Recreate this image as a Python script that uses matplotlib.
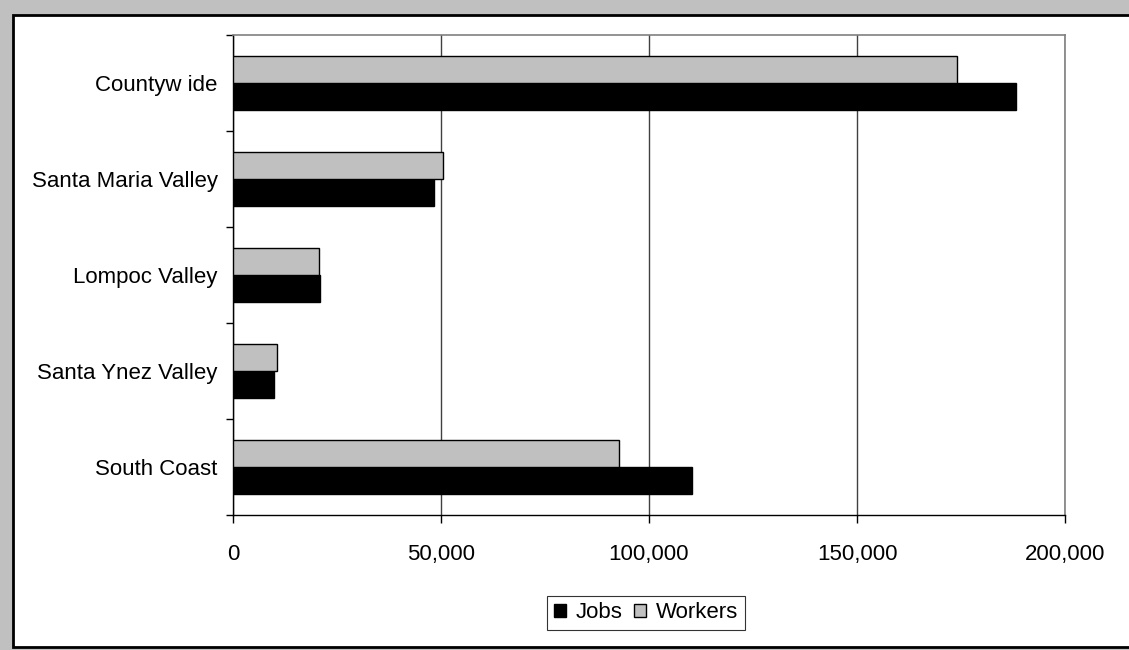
import matplotlib.pyplot as plt
import numpy as np
from matplotlib.patches import Rectangle
from matplotlib.ticker import FuncFormatter

# regions listed bottom to top
regions = ["South Coast", "Santa Ynez Valley", "Lompoc Valley",
           "Santa Maria Valley", "Countyw ide"]
jobs = [110300, 9900, 20900, 48300, 188200]
workers = [92900, 10650, 20750, 50400, 174000]
x_ticks = [0, 50000, 100000, 150000, 200000]

plt.rcParams["font.family"] = ["Liberation Sans", "DejaVu Sans"]
plt.rcParams["font.size"] = 16

W, H = 1129, 650
fig = plt.figure(figsize=(W / 100, H / 100), dpi=100, facecolor="#c0c0c0")

# white chart area with black frame, kept behind the axes
fig.patches.append(Rectangle((13 / W, 3 / H), 1.2, (647 - 15) / H,
                             transform=fig.transFigure, facecolor="white",
                             edgecolor="black", linewidth=2, zorder=-5))

ax = fig.add_axes([233 / W, (H - 515) / H, (1065 - 233) / W, 480 / H])
ax.set_zorder(2)

y = np.arange(len(regions))
h = 1 / 3.5
ax.barh(y - h / 2, jobs, height=h, color="black", edgecolor="black",
        linewidth=1, label="Jobs", zorder=3)
ax.barh(y + h / 2, workers, height=h, color="#c0c0c0", edgecolor="black",
        linewidth=1, label="Workers", zorder=3)

ax.set_xlim(0, 200000)
ax.set_ylim(-0.5, len(regions) - 0.5)

ax.set_xticks(x_ticks)
ax.xaxis.set_major_formatter(FuncFormatter(lambda v, p: f"{int(v):,}"))
ax.tick_params(axis="x", length=6, width=1, pad=15, color="black")

ax.set_yticks(np.arange(len(regions) + 1) - 0.5)
ax.set_yticklabels([])
ax.tick_params(axis="y", which="major", length=5, width=1, color="black")
ax.set_yticks(y, minor=True)
ax.set_yticklabels(regions, minor=True)
ax.tick_params(axis="y", which="minor", length=0, pad=11)

ax.grid(axis="x", color="#404040", linewidth=1, zorder=0)
ax.set_axisbelow(True)

for side in ["top", "right"]:
    ax.spines[side].set_color("#808080")
    ax.spines[side].set_linewidth(1.2)
for side in ["left", "bottom"]:
    ax.spines[side].set_color("black")
    ax.spines[side].set_linewidth(1)

leg = fig.legend(loc="center", bbox_to_anchor=(646 / W, (H - 613) / H), ncol=2,
                 fontsize=16, frameon=True, fancybox=False, shadow=False,
                 handlelength=0.55, handleheight=0.55, handletextpad=0.45,
                 columnspacing=0.5, borderpad=0.3, borderaxespad=0)
leg.get_frame().set_edgecolor("black")
leg.get_frame().set_linewidth(0.8)

fig.savefig("out.png", dpi=100, facecolor=fig.get_facecolor())
